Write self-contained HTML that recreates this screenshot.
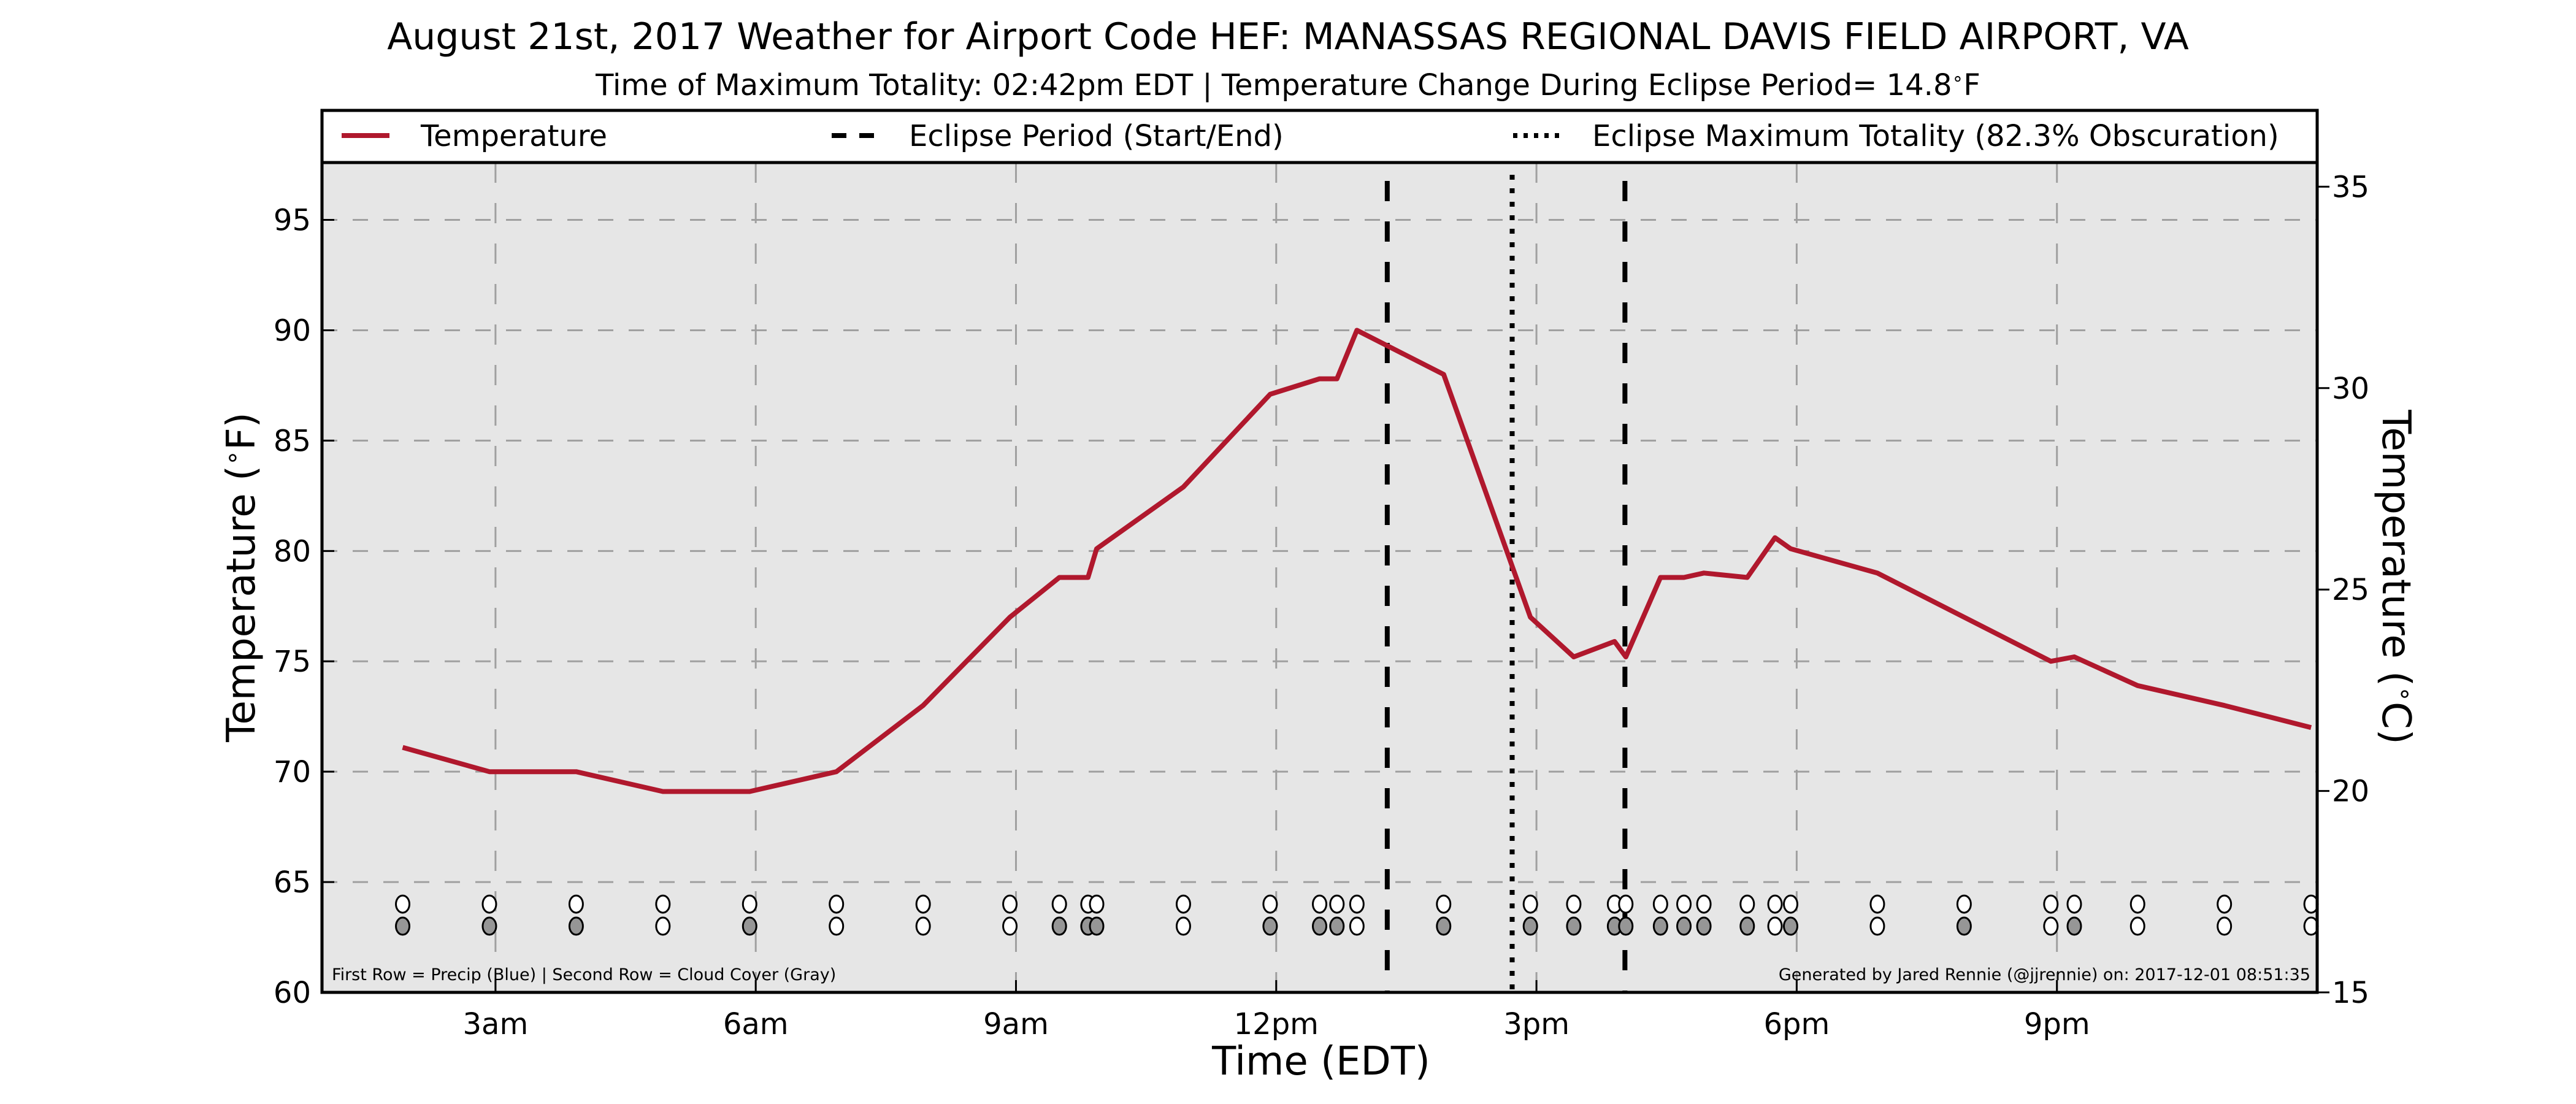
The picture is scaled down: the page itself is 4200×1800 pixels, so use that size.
<!DOCTYPE html>
<html><head><meta charset="utf-8"><style>
html,body{margin:0;padding:0;background:#fff;}
svg{display:block;font-family:"DejaVu Sans","Liberation Sans",sans-serif;}
</style></head><body>
<svg id="chart" width="4200" height="1800" viewBox="0 0 4200 1800" xmlns="http://www.w3.org/2000/svg">
<text x="2100" y="80" font-size="60" text-anchor="middle">August 21st, 2017 Weather for Airport Code HEF: MANASSAS REGIONAL DAVIS FIELD AIRPORT, VA</text>
<text x="2100" y="155" font-size="48" text-anchor="middle">Time of Maximum Totality: 02:42pm EDT | Temperature Change During Eclipse Period= 14.8<tspan baseline-shift="super" font-size="30">∘</tspan>F</text>
<rect x="525" y="265" width="3253" height="1353" fill="#e6e6e6"/>
<g id="grid"></g>
<g id="marks"></g>
<rect x="525" y="265" width="3253" height="1353" fill="none" stroke="#000" stroke-width="5"/>
<g id="axes"></g>
<g>
<rect x="525" y="180" width="3253" height="85" fill="#fff" stroke="#000" stroke-width="5"/>
<line x1="557" y1="221" x2="635" y2="221" stroke="#b0182d" stroke-width="8"/>
<text x="686" y="238" font-size="48">Temperature</text>
<line x1="1356" y1="221" x2="1425" y2="221" stroke="#000" stroke-width="8" stroke-dasharray="24,21"/>
<text x="1482" y="238" font-size="48">Eclipse Period (Start/End)</text>
<line x1="2467" y1="221" x2="2545" y2="221" stroke="#000" stroke-width="8" stroke-dasharray="7,10"/>
<text x="2596" y="238" font-size="48">Eclipse Maximum Totality (82.3% Obscuration)</text>
</g>
<text x="541" y="1598" font-size="27">First Row = Precip (Blue) | Second Row = Cloud Cover (Gray)</text>
<text x="3767" y="1598" font-size="27" text-anchor="end">Generated by Jared Rennie (@jjrennie) on: 2017-12-01 08:51:35</text>
<text x="2154" y="1752" font-size="64" text-anchor="middle">Time (EDT)</text>
<text transform="translate(415,941) rotate(-90)" font-size="64" text-anchor="middle">Temperature (<tspan baseline-shift="super" font-size="40">∘</tspan>F)</text>
<text transform="translate(3885,941) rotate(90)" font-size="64" text-anchor="middle">Temperature (<tspan baseline-shift="super" font-size="40">∘</tspan>C)</text>
</svg>
<script>
const times = [1.93,2.93,3.93,4.93,5.93,6.93,7.93,8.93,9.5,9.83,9.93,10.93,11.93,12.5,12.7,12.93,13.93,14.93,15.43,15.9,16.03,16.43,16.7,16.93,17.43,17.75,17.93,18.93,19.93,20.93,21.2,21.93,22.93,23.93];
const tempsF = [71.1,70,70,69.1,69.1,70,73,77,78.8,78.8,80.1,82.9,87.1,87.8,87.8,90,88,77,75.2,75.9,75.2,78.8,78.8,79,78.8,80.6,80.1,79,77,75,75.2,73.9,73,72];
const cloudGray = [1,1,1,0,1,0,0,0,1,1,1,0,1,1,1,0,1,1,1,1,1,1,1,1,1,0,1,0,1,0,1,0,0,0];
const eclipseStart = 13.28, eclipseMax = 14.72, eclipseEnd = 16.02;
const xTicks = [3,6,9,12,15,18,21];
const xTickLabels = ['3am','6am','9am','12pm','3pm','6pm','9pm'];
const yTicksF = [60,65,70,75,80,85,90,95];
const yTicksC = [15,20,25,30,35];

const X0=525,X1=3778,Y0=1618,Y1=265;
const xMin=1,xMax=24,fMin=60,fMax=97.6,cMin=15,cMax=35.6;
const x = h => X0+(h-xMin)/(xMax-xMin)*(X1-X0);
const yF = v => Y0-(v-fMin)/(fMax-fMin)*(Y0-Y1);
const yC = v => Y0-(v-cMin)/(cMax-cMin)*(Y0-Y1);
const NS='http://www.w3.org/2000/svg';
function mk(tag, parent, attrs){const e=document.createElementNS(NS,tag);for(const k in attrs)e.setAttribute(k,attrs[k]);parent.appendChild(e);return e;}
const grid=document.getElementById('grid'), marks=document.getElementById('marks'), axes=document.getElementById('axes');

xTicks.forEach((t,i)=>{
  const g=mk('line',grid,{x1:x(t),x2:x(t),y1:Y1,y2:Y0,stroke:'#a0a0a0','stroke-width':3,'stroke-dasharray':'33,33'});
  
  
  const tk=mk('line',axes,{x1:x(t),x2:x(t),y1:Y0,y2:Y0-20,stroke:'#000','stroke-width':3});
  
  
  const tl=mk('text',axes,{x:x(t),y:Y0+68,'font-size':48,'text-anchor':'middle'});
  tl.textContent=xTickLabels[i];
  
  
});
yTicksF.forEach(v=>{
  if(v>fMin){
    const g=mk('line',grid,{x1:X0,x2:X1,y1:yF(v),y2:yF(v),stroke:'#a0a0a0','stroke-width':3,'stroke-dasharray':'25,25'});
    
    
  }
  const tk=mk('line',axes,{x1:X0,x2:X0+20,y1:yF(v),y2:yF(v),stroke:'#000','stroke-width':3});
  
  
  const tl=mk('text',axes,{x:X0-18,y:yF(v)+17,'font-size':48,'text-anchor':'end'});
  tl.textContent=v;
  
  
});
yTicksC.forEach(v=>{
  const tk=mk('line',axes,{x1:X1,x2:X1+20,y1:yC(v),y2:yC(v),stroke:'#000','stroke-width':3});
  
  
  const tl=mk('text',axes,{x:X1+24,y:yC(v)+17,'font-size':48});
  tl.textContent=v;
  
  
});

[[eclipseStart,'eclipse-start-line'],[eclipseEnd,'eclipse-end-line']].forEach(([t,n])=>{
  const l=mk('line',marks,{x1:x(t),x2:x(t),y1:Y1+30,y2:Y0,stroke:'#000','stroke-width':8,'stroke-dasharray':'33,33'});
  
  
});
const ml=mk('line',marks,{x1:x(eclipseMax),x2:x(eclipseMax),y1:Y1+20,y2:Y0,stroke:'#000','stroke-width':8,'stroke-dasharray':'8,14'});



const pts=times.map((t,i)=>x(t).toFixed(1)+','+yF(tempsF[i]).toFixed(1)).join(' ');
const pl=mk('polyline',marks,{points:pts,fill:'none',stroke:'#b0182d','stroke-width':8,'stroke-linejoin':'round'});



times.forEach((t,i)=>{
  const p=mk('ellipse',marks,{cx:x(t),cy:yF(64),rx:11,ry:14,fill:'#fff',stroke:'#000','stroke-width':3});
  
  
  const c=mk('ellipse',marks,{cx:x(t),cy:yF(63),rx:11,ry:14,fill:cloudGray[i]?'#969696':'#fff',stroke:'#000','stroke-width':3});
  
  
});
</script>
</body></html>
